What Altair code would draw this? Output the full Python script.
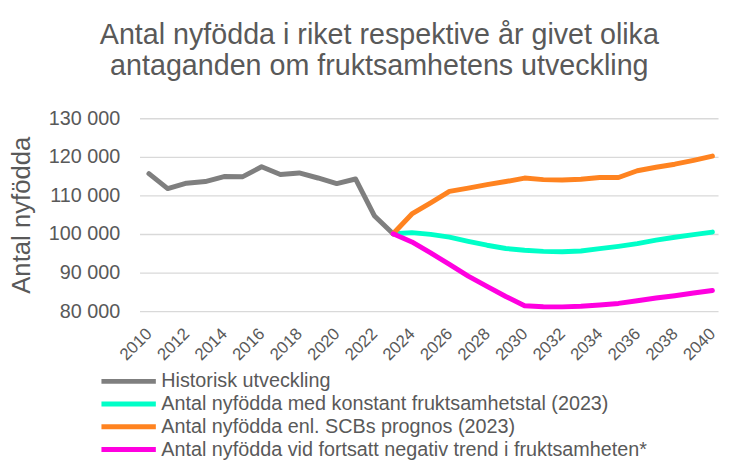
import altair as alt
import pandas as pd

# ---- data ----
hist_years = list(range(2010, 2024))
hist_values = [115641, 111770, 113177, 113593, 114907, 114870, 117425, 115416,
               115832, 114523, 113077, 114263, 104734, 100051]

proj_years = list(range(2023, 2041))
konstant_values = [100051, 100350, 99900, 99200, 98100, 97100, 96250, 95800, 95500,
                   95400, 95600, 96200, 96800, 97500, 98400, 99150, 99850, 100500]
scb_values = [100051, 105200, 108100, 111050, 111900, 112800, 113600, 114500, 114100,
              114000, 114200, 114650, 114650, 116400, 117300, 118100, 119100, 120200]
negativ_values = [100051, 97950, 95100, 92100, 89100, 86400, 83800, 81400, 81150,
                  81100, 81250, 81600, 82000, 82700, 83400, 84000, 84700, 85350]

series_names = [
    "Historisk utveckling",
    "Antal nyfödda med konstant fruktsamhetstal (2023)",
    "Antal nyfödda enl. SCBs prognos (2023)",
    "Antal nyfödda vid fortsatt negativ trend i fruktsamheten*",
]
series_colors = ["#7f7f7f", "#00ffc8", "#ff8320", "#ff00e0"]

title_lines = ["Antal nyfödda i riket respektive år givet olika",
               "antaganden om fruktsamhetens utveckling"]
x_tick_values = list(range(2010, 2041, 2))
y_tick_values = [80000, 90000, 100000, 110000, 120000, 130000]

rows = []
for y, v in zip(hist_years, hist_values):
    rows.append({"year": y, "value": v, "series": series_names[0], "o": 0})
for vals, k in [(konstant_values, 1), (scb_values, 2), (negativ_values, 3)]:
    for y, v in zip(proj_years, vals):
        rows.append({"year": y, "value": v, "series": series_names[k], "o": k})
df = pd.DataFrame(rows)

TXT = "#595959"
FONT = "Liberation Sans"

chart = alt.Chart(df).mark_line(strokeWidth=5, strokeCap="round", strokeJoin="round").encode(
    x=alt.X("year:Q",
            scale=alt.Scale(domain=[2009.5, 2040.3], nice=False, zero=False),
            axis=alt.Axis(values=x_tick_values, format="d", title=None, grid=False,
                          domain=False, ticks=False, labelAngle=315,
                          labelAlign="right", labelBaseline="middle",
                          labelPadding=20, labelFontSize=17, labelColor=TXT,
                          labelFont=FONT, labelOverlap=False)),
    y=alt.Y("value:Q",
            scale=alt.Scale(domain=[80000, 130000], nice=False, zero=False),
            axis=alt.Axis(values=y_tick_values, title="Antal nyfödda",
                          titleFontSize=26, titleFont=FONT, titleColor=TXT,
                          titleFontWeight="normal", titlePadding=14,
                          labelExpr="replace(format(datum.value, ',d'), ',', ' ')",
                          labelFontSize=20, labelColor=TXT, labelFont=FONT,
                          labelPadding=20, domain=False, ticks=False,
                          gridColor="#d9d9d9", gridWidth=1.4)),
    color=alt.Color("series:N",
                    scale=alt.Scale(domain=series_names, range=series_colors),
                    legend=alt.Legend(title=None, orient="none", legendX=-41, legendY=256,
                                      direction="vertical", symbolType="stroke",
                                      symbolSize=3025, symbolStrokeWidth=5,
                                      labelFontSize=20, labelFont=FONT, labelColor=TXT,
                                      labelLimit=700, labelOffset=3, clipHeight=20,
                                      rowPadding=3, padding=0)),
    order=alt.Order("o:Q"),
).properties(
    width=585,
    height=195,
    title=alt.TitleParams(text=title_lines, fontSize=29, font=FONT, color=TXT,
                          fontWeight="normal", anchor="middle", frame="group",
                          dx=-50, offset=28, lineHeight=31),
    autosize=alt.AutoSizeParams(type="none"),
    padding={"left": 133, "top": 109, "right": 3, "bottom": 149},
).configure_view(stroke=None)

chart.save("out.html", embed_options={"renderer": "svg", "actions": False})
